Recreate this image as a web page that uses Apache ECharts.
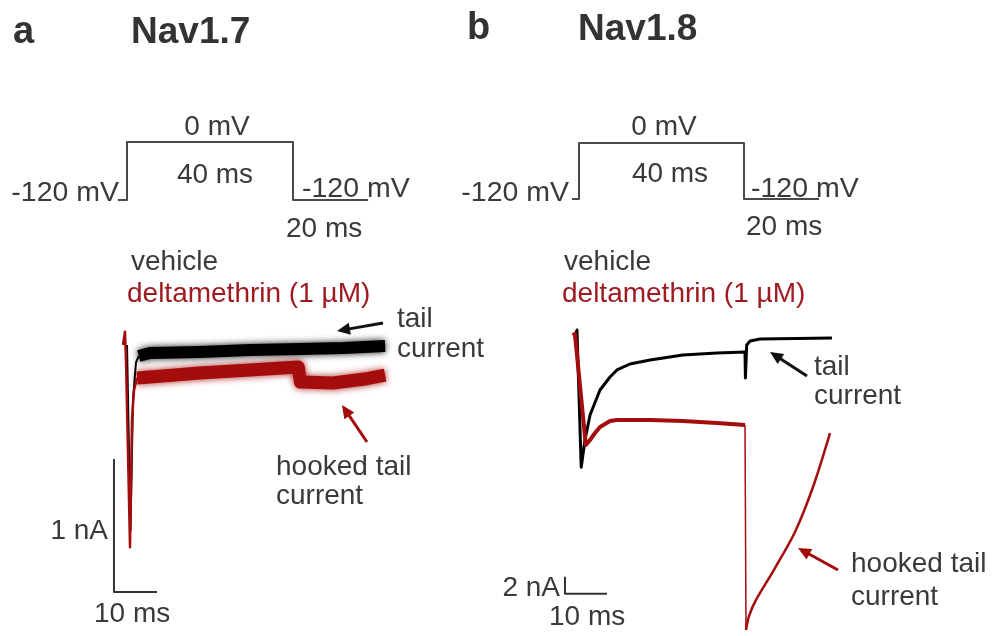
<!DOCTYPE html>
<html>
<head>
<meta charset="utf-8">
<script src="https://cdn.jsdelivr.net/npm/echarts@6/dist/echarts.min.js"></script>
<style>html,body{margin:0;padding:0;background:#fff}#c{width:992px;height:636px}</style>
</head>
<body>
<div id="c"></div>
<script>
// ---------- DATA ----------
// Voltage protocols (time ms, voltage mV)
const protoA_t = [-2.2, 0, 0, 40, 40, 58.1];
const protoA_v = [-120, -120, 0, 0, -120, -120];
const protoB_t = [-1.7, 0, 0, 40, 40, 58.2];
const protoB_v = [-120, -120, 0, 0, -120, -120];

// Panel a (Nav1.7) currents: time ms, current nA
const aVehSpike_t = [-0.23, 0.58, 1.16, 1.86, 2.5];
const aVehSpike_i = [0, -1.39, -0.41, -0.13, -0.083];
const aVeh_t = [2.5, 5.1, 16.7, 28.4, 40, 50, 59.8];
const aVeh_i = [-0.083, -0.06, -0.053, -0.038, -0.03, -0.023, -0.008];
const aDelSpike_t = [-1.16, -0.7, -0.47, 0.47, 0.93, 1.4, 2.1];
const aDelSpike_i = [0, 0.1, -0.11, -1.52, -0.56, -0.34, -0.248];
const aDel_t = [2.1, 5.1, 16.7, 28.4, 39.6, 40.1, 47.7, 55, 59.8];
const aDel_i = [-0.248, -0.241, -0.211, -0.188, -0.165, -0.278, -0.286, -0.256, -0.226];

// Panel b (Nav1.8) currents: time ms, current nA
const bVeh_t = [-0.5, 0, 1.0, 1.9, 3.1, 5.48, 7.86, 9.52, 12.6, 17.4, 25.2, 33.3, 40.0, 40.1, 40.4, 41.2, 43.6, 60.7];
const bVeh_i = [0, 0.94, -15.2, -12.0, -9.06, -6.12, -4.59, -3.76, -3.06, -2.59, -2.0, -1.76, -1.65, -4.7, -0.82, -0.35, -0.12, 0];
const bDel_t = [-1.0, -0.5, 2.1, 3.1, 4.29, 5.48, 7.86, 9.52, 17.4, 25.2, 33.3, 40.0];
const bDel_i = [0.3, 0.5, -12.6, -12.0, -11.18, -10.47, -9.76, -9.65, -9.65, -9.76, -10.0, -10.24];
const bDelStep_t = [40.0, 40.24];
const bDelStep_i = [-10.24, -34.35];
const bDelTail_t = [40.24, 40.95, 42.62, 47.14, 51.9, 56.19, 60.24];
const bDelTail_i = [-34.35, -32.71, -30.82, -27.06, -22.82, -17.53, -11.18];

// Scale bars: [origin t, origin I, length ms, length nA]
const scaleA = [-3.26, -1.857, 10, 1];
const scaleB = [-2.86, -30.1, 10, 2];

// ---------- RENDER ----------
const zip = (t, v) => t.map((x, i) => [x, v[i]]);
const FONT = "'Liberation Sans', Arial, Helvetica, sans-serif";
const TXT = '#3a3a3a';
const RED_TXT = '#9e1b22';
const RED = '#a50d0d';

const chart = echarts.init(document.getElementById('c'), null, {renderer: 'canvas'});

const grids = [
  {left: 85.5, top: 132.3, width: 332, height: 77.3},   // protocol a
  {left: 85, top: 212, width: 344, height: 399},         // traces a
  {left: 537.75, top: 133.7, width: 330, height: 74.7},  // protocol b
  {left: 535, top: 295.5, width: 336, height: 340}       // traces b
];
const xAxes = grids.map((g, i) => ({gridIndex: i, type: 'value', min: -10, max: 70, show: false}));
const yAxes = [
  {gridIndex: 0, type: 'value', min: -140, max: 20, show: false},
  {gridIndex: 1, type: 'value', min: -2, max: 1, show: false},
  {gridIndex: 2, type: 'value', min: -140, max: 20, show: false},
  {gridIndex: 3, type: 'value', min: -35, max: 5, show: false}
];

function ln(idx, data, color, width, opacity, z, extra, smooth) {
  return {type: 'line', xAxisIndex: idx, yAxisIndex: idx, data, showSymbol: false, symbol: 'none',
    silent: true, clip: false, z: z || 2, smooth: smooth || false,
    lineStyle: Object.assign({color, width, opacity: opacity == null ? 1 : opacity, join: 'round', cap: 'butt'}, extra || {})};
}
function scaleBar(idx, s) {
  const [t0, i0, dt, di] = s;
  return ln(idx, [[t0, i0 + di], [t0, i0], [t0 + dt, i0]], '#333', 2, 1, 5);
}

const series = [
  ln(0, zip(protoA_t, protoA_v), '#4a4a4a', 2),
  ln(2, zip(protoB_t, protoB_v), '#4a4a4a', 2),
  // panel a (noisy recordings drawn as fuzzy bands)
  ln(1, zip(aDel_t, aDel_i), RED, 13, 1, 3, {shadowBlur: 7, shadowColor: 'rgba(165,13,13,0.9)'}),
  ln(1, zip(aVeh_t, aVeh_i), '#000', 12, 1, 5, {shadowBlur: 7, shadowColor: 'rgba(0,0,0,0.9)'}),
  ln(1, zip(aVehSpike_t, aVehSpike_i), '#000', 2, 1, 6),
  ln(1, zip(aDelSpike_t, aDelSpike_i), RED, 2.5, 1, 7),
  scaleBar(1, scaleA),
  // panel b
  ln(3, zip(bVeh_t, bVeh_i), '#000', 3, 1, 3),
  ln(3, zip(bDel_t, bDel_i), RED, 4, 1, 4),
  ln(3, zip(bDelStep_t, bDelStep_i), RED, 1.5, 1, 4),
  ln(3, zip(bDelTail_t, bDelTail_i), RED, 2.5, 1, 4, null, 0.3),
  scaleBar(3, scaleB)
];

// text helper: baseline y given
function txt(text, x, baseline, size, opts) {
  opts = opts || {};
  return {type: 'text', x: x, y: baseline - 0.2 * size, z: 10, silent: true,
    style: {text, fill: opts.fill || TXT, font: (opts.bold ? 'bold ' : '') + size + 'px ' + FONT,
      align: opts.align || 'left', verticalAlign: 'middle'}};
}
function arrow(x1, y1, x2, y2, color) {
  const dx = x2 - x1, dy = y2 - y1, L = Math.hypot(dx, dy);
  const ux = dx / L, uy = dy / L, hl = 13, hw = 6;
  const bx = x2 - ux * hl, by = y2 - uy * hl;
  return [
    {type: 'line', z: 10, silent: true, shape: {x1, y1, x2: bx + ux * 2, y2: by + uy * 2}, style: {stroke: color, lineWidth: 3}},
    {type: 'polygon', z: 10, silent: true, shape: {points: [[x2, y2], [bx - uy * hw, by + ux * hw], [bx + uy * hw, by - ux * hw]]}, style: {fill: color}}
  ];
}

const graphics = [
  txt('a', 13, 40, 38, {bold: true, fill: '#333'}),
  txt('Nav1.7', 131, 40, 37, {bold: true, fill: '#333'}),
  txt('b', 467, 36, 38, {bold: true, fill: '#333'}),
  txt('Nav1.8', 578, 37, 37, {bold: true, fill: '#333'}),
  // protocol a
  txt('0 mV', 217, 133, 28, {align: 'center'}),
  txt('40 ms', 215, 181, 28, {align: 'center'}),
  txt('-120 mV', 119, 199, 28.5, {align: 'right'}),
  txt('-120 mV', 302, 195, 28.5),
  txt('20 ms', 286, 235, 28),
  // protocol b
  txt('0 mV', 664, 133, 28, {align: 'center'}),
  txt('40 ms', 670, 180, 28, {align: 'center'}),
  txt('-120 mV', 569, 199, 28.5, {align: 'right'}),
  txt('-120 mV', 751, 195, 28.5),
  txt('20 ms', 746, 233, 28),
  // legends
  txt('vehicle', 131, 268, 28),
  txt('deltamethrin (1 µM)', 127, 300, 28, {fill: RED_TXT}),
  txt('vehicle', 564, 268, 28),
  txt('deltamethrin (1 µM)', 562, 300, 28, {fill: RED_TXT}),
  // annotations a
  txt('tail', 397, 325, 28),
  txt('current', 397, 355, 28),
  txt('hooked tail', 276, 473, 28),
  txt('current', 276, 502, 28),
  txt('1 nA', 108, 537, 28, {align: 'right'}),
  txt('10 ms', 94, 620, 28),
  // annotations b
  txt('tail', 814, 373, 28),
  txt('current', 814, 402, 28),
  txt('hooked tail', 851, 570, 28),
  txt('current', 851, 603, 28),
  txt('2 nA', 560, 594, 28, {align: 'right'}),
  txt('10 ms', 549, 623, 28),
  ...arrow(383, 323, 337, 331, '#111'),
  ...arrow(367, 442, 342, 405, RED),
  ...arrow(807, 376, 770, 352, '#111'),
  ...arrow(838, 570, 798, 548, RED)
];

chart.setOption({
  animation: false,
  backgroundColor: '#ffffff',
  grid: grids,
  xAxis: xAxes,
  yAxis: yAxes,
  series,
  graphic: graphics
});
</script>
</body>
</html>
